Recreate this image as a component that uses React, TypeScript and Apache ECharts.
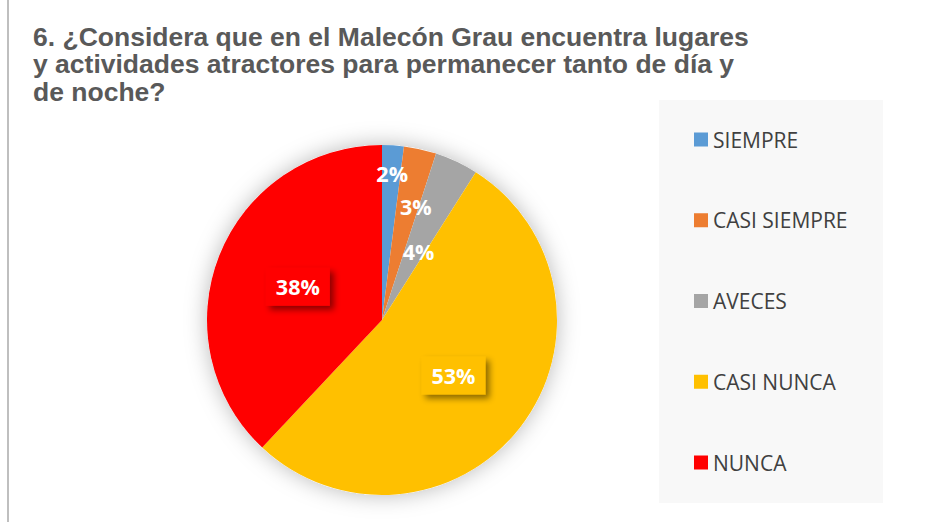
import React, { useEffect, useRef } from "react";
import * as echarts from "echarts";

const TITLE_LINES = [
  "6. ¿Considera que en el Malecón Grau encuentra lugares",
  "y actividades atractores para permanecer tanto de día y",
  "de noche?",
];
const CATEGORIES = ["SIEMPRE", "CASI SIEMPRE", "AVECES", "CASI NUNCA", "NUNCA"];
const VALUES = [2, 3, 4, 53, 38];
const COLORS = ["#5B9BD5", "#ED7D31", "#A5A5A5", "#FFC000", "#FF0000"];
// label box fill: small slices show no fill in the reference
const LABEL_FILLED = [false, false, false, true, true];
const LABEL_OFFSETS = [
  [4.5, -56.5],
  [14, -25],
  [-2, 13],
  [0, 0],
  [0, 0],
];

export default function App() {
  const ref = useRef<HTMLDivElement>(null);
  useEffect(() => {
    if (!ref.current) return;
    const chart = echarts.init(ref.current, undefined, { renderer: "svg" });
    const data = CATEGORIES.map((name, i) => ({
      name,
      value: VALUES[i],
      itemStyle: { color: COLORS[i] },
      label: LABEL_FILLED[i]
        ? {
            backgroundColor: COLORS[i],
            shadowColor: "rgba(0,0,0,0.45)",
            shadowBlur: 6,
            shadowOffsetX: 4,
            shadowOffsetY: 4,
          }
        : {
            backgroundColor: "transparent",
          },
    }));
    chart.setOption({
      animation: false,
      title: {
        text: TITLE_LINES.join("\n"),
        left: 28,
        top: 18,
        textStyle: {
          fontFamily: "Liberation Sans, Arial, sans-serif",
          fontWeight: "bold",
          fontSize: 26.5,
          lineHeight: 27.5,
          color: "#595959",
        },
      },
      graphic: [
        {
          type: "line",
          shape: { x1: 8, y1: 0, x2: 8, y2: 522 },
          style: { stroke: "#BFBFBF", lineWidth: 2 },
          z: 0,
        },
        {
          type: "rect",
          shape: { x: 659, y: 100, width: 224, height: 403 },
          style: { fill: "#F8F8F8" },
          z: 0,
        },
      ],
      legend: {
        data: CATEGORIES,
        orient: "vertical",
        left: 689,
        top: 124,
        padding: 5,
        itemWidth: 14,
        itemHeight: 14,
        itemGap: 59.75,
        icon: "rect",
        selectedMode: false,
        textStyle: {
          fontFamily: "Open Sans, sans-serif",
          fontSize: 21,
          lineHeight: 20,
          color: "#404040",
        },
        z: 5,
      },
      series: [
        {
          type: "pie",
          name: "shadow",
          center: [382, 320],
          radius: 175,
          silent: true,
          label: { show: false },
          labelLine: { show: false },
          emphasis: { disabled: true },
          data: [{ value: 1, name: "_bg", itemStyle: { color: "#FFFFFF" } }],
          itemStyle: {
            shadowBlur: 22,
            shadowColor: "rgba(0,0,0,0.28)",
          },
          z: 1,
        },
        {
          type: "pie",
          name: "main",
          center: [382, 320],
          radius: 175,
          startAngle: 90,
          clockwise: true,
          avoidLabelOverlap: false,
          emphasis: { disabled: true },
          itemStyle: { borderWidth: 0 },
          label: {
            show: true,
            position: "inside",
            formatter: "{c}%",
            color: "#FFFFFF",
            fontFamily: "Open Sans, sans-serif",
            fontWeight: "bold",
            fontSize: 21.5,
            padding: [8, 10],
          },
          labelLine: { show: false },
          labelLayout: (params: any) => {
            const off = LABEL_OFFSETS[params.dataIndex] || [0, 0];
            return { dx: off[0], dy: off[1] };
          },
          data,
          z: 2,
        },
      ],
    });
    return () => chart.dispose();
  }, []);
  return (
    <div
      ref={ref}
      style={{ position: "fixed", left: 0, top: 0, width: 938, height: 522, background: "#fff" }}
    />
  );
}
